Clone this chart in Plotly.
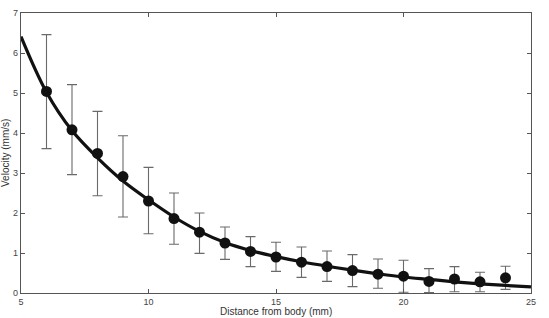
import plotly.graph_objects as go

# Measured data (distance mm, mean velocity mm/s, error bar upper/lower ends)
distance = [6, 7, 8, 9, 10, 11, 12, 13, 14, 15, 16, 17, 18, 19, 20, 21, 22, 23, 24]
velocity = [5.04, 4.08, 3.49, 2.91, 2.30, 1.86, 1.52, 1.25, 1.04, 0.90, 0.77, 0.66, 0.56, 0.47, 0.42, 0.29, 0.35, 0.28, 0.38]
err_top = [6.46, 5.21, 4.54, 3.93, 3.14, 2.50, 2.00, 1.65, 1.41, 1.27, 1.15, 1.05, 0.96, 0.85, 0.82, 0.61, 0.66, 0.52, 0.67]
err_bottom = [3.61, 2.96, 2.43, 1.90, 1.48, 1.22, 0.99, 0.84, 0.66, 0.54, 0.39, 0.29, 0.16, 0.12, 0.02, 0.01, 0.03, 0.03, 0.09]

# Fitted curve
fit_x = [5, 6, 7, 8, 9, 10, 11, 12, 13, 14, 15, 16, 17, 18, 19, 20, 21, 22, 23, 24, 25]
fit_y = [6.41, 5.02, 4.06, 3.38, 2.80, 2.33, 1.90, 1.54, 1.26, 1.06, 0.91, 0.78, 0.67, 0.57, 0.48, 0.40, 0.34, 0.28, 0.23, 0.19, 0.155]

x_ticks = [5, 10, 15, 20, 25]
y_ticks = [0, 1, 2, 3, 4, 5, 6, 7]

err_plus = [t - v for t, v in zip(err_top, velocity)]
err_minus = [v - b for v, b in zip(velocity, err_bottom)]

fig = go.Figure()
fig.add_trace(go.Scatter(
    x=distance, y=velocity, mode="markers",
    marker=dict(color="#111111", size=11),
    error_y=dict(type="data", symmetric=False, array=err_plus, arrayminus=err_minus,
                 color="#6a6a6a", thickness=1.1, width=5),
    showlegend=False, cliponaxis=False,
))
fig.add_trace(go.Scatter(
    x=fit_x, y=fit_y, mode="lines", line=dict(color="#111111", width=3.2, shape="spline"),
    showlegend=False,
))

axis_common = dict(
    showgrid=False, zeroline=False, showline=True, linecolor="#555555", linewidth=1.2,
    mirror="ticks", ticks="inside", ticklen=4, tickcolor="#555555",
    tickfont=dict(family="Liberation Sans, Arial, sans-serif", size=9, color="#444444"),
)
fig.update_xaxes(range=[5, 25], tickvals=x_ticks, ticktext=[str(v) for v in x_ticks], **axis_common)
fig.update_yaxes(range=[0, 7], tickvals=y_ticks, ticktext=[str(v) for v in y_ticks], **axis_common)

fig.update_layout(
    width=549, height=318,
    margin=dict(l=21, r=18, t=8, b=25),
    plot_bgcolor="white", paper_bgcolor="white",
    annotations=[
        dict(text="Distance from body (mm)", xref="paper", yref="paper", x=0.5, y=0,
             yshift=-18, xanchor="center", yanchor="middle", showarrow=False,
             font=dict(family="Liberation Sans, Arial, sans-serif", size=10, color="#333333")),
        dict(text="Velocity (mm/s)", xref="paper", yref="paper", x=0, y=0.5,
             xshift=-16, xanchor="center", yanchor="middle", textangle=-90, showarrow=False,
             font=dict(family="Liberation Sans, Arial, sans-serif", size=10, color="#333333")),
    ],
)

fig.write_html("out.html")
